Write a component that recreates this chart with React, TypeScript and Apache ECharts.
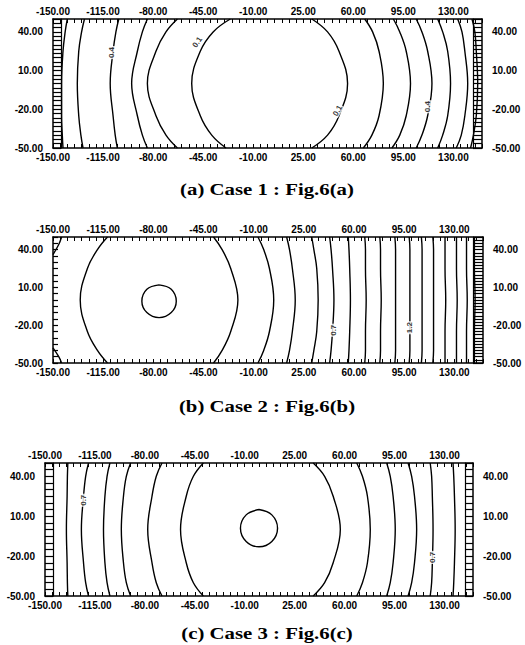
import React, { useEffect, useRef } from "react";
import * as echarts from "echarts";

// ---------- data ----------
const xTickLabels = [-150, -115, -80, -45, -10, 25, 60, 95, 130];
const yTickLabels = [-50, -20, 10, 40];
const xAxisMax = 150;
const yAxisMax = 50;

// y positions at which each contour's x value was read
const sampleY = [50, 40, 25, 0, -25, -40, -50];

// Case 1 : open contours (x at sampleY)
const case1Branches = [
  [-140, -141.5, -143, -144, -144, -143.5, -143],
  [-128, -130, -132, -133, -132, -130.5, -129],
  [-104, -106, -108, -110, -108, -106.5, -105],
  [-84, -87.5, -91, -95, -91, -87.5, -84],
  [-63, -71, -78, -84, -78, -71, -63],
  [-26, -38, -47, -53, -47, -39, -29],
  [31, 42, 50, 56, 50, 42, 31],
  [68, 73.5, 78, 81, 78, 73, 67],
  [88, 92.5, 97, 100, 97, 92.5, 87],
  [104, 108, 112, 115, 112, 108, 104],
  [119, 122.5, 126, 128, 126, 122.5, 119],
  [133, 136, 138, 140, 138, 135.5, 132],
  [143, 145, 146, 147, 146, 144, 142],
];
const case1Labels = [
  { name: "0.4", x: -109, y: 24, rot: 90 },
  { name: "0.1", x: -49, y: 32, rot: 55 },
  { name: "0.1", x: 49, y: -21, rot: 60 },
  { name: "0.4", x: 112, y: -18, rot: 90 },
];

// Case 2
const case2Branches = [
  [-112, -119, -126, -131, -126, -119, -112],
  [-38, -32, -26, -21, -26, -32, -38],
  [-7, -3, 1, 4, 1, -3, -7],
  [13, 15, 17, 19, 17, 15, 13],
  [30.5, 32, 34, 35, 34, 32, 30.5],
  [43, 44, 45, 46, 45, 44, 43],
  [56, 56.5, 57, 57.5, 57, 56.5, 56],
  [67.5, 68, 68, 68.5, 68, 68, 67.5],
  [78, 78.5, 78.5, 79, 78.5, 78.5, 78],
  [88.5, 89, 89, 89, 89, 89, 88.5],
  [98.5, 99, 99, 99, 99, 99, 98.5],
  [107, 107.5, 107.5, 107.5, 107.5, 107.5, 107],
  [115, 115.5, 115.5, 115.5, 115.5, 115.5, 115],
  [123.5, 123.5, 123.5, 124, 123.5, 123.5, 123.5],
  [131.5, 131.5, 131.5, 132, 131.5, 131.5, 131.5],
  [138.5, 138.5, 138.5, 139, 138.5, 138.5, 138.5],
  [144, 144, 144, 144.5, 144, 144, 144],
];
const case2Circle = [
  [-76, 12], [-67.5, 8.5], [-64, -1], [-67.5, -10], [-76, -14],
  [-84.5, -10], [-88, -1], [-84.5, 8.5], [-76, 12],
];
const case2Corners = [
  [[-150, 36], [-146, 44], [-144, 50]],
  [[-150, -38], [-146, -45], [-144, -50]],
];
const case2Labels = [
  { name: "0.7", x: 45.5, y: -24, rot: 90 },
  { name: "1.2", x: 99, y: -22, rot: 90 },
];

// Case 3
const case3Branches = [
  [-134, -134.3, -134.5, -135, -134.5, -134.3, -134],
  [-119.5, -121.5, -123, -124.5, -123, -121.5, -119.5],
  [-104.5, -106.5, -108, -109, -108, -106.5, -104.5],
  [-90, -93, -95, -96.5, -95, -93, -90],
  [-68, -72, -75, -78, -75, -72, -68],
  [-39, -46, -51, -55, -51, -46, -39],
  [38, 46, 52, 57, 52, 46, 38],
  [68.5, 72.5, 76, 78, 76, 72.5, 68.5],
  [89.5, 92, 94, 95.5, 94, 92, 89.5],
  [104.5, 107, 109, 110.5, 109, 107, 104.5],
  [120, 121, 121.5, 122, 121.5, 121, 120],
  [136, 136.5, 137, 137.5, 137, 136.5, 136],
];
const case3Circle = [
  [0, 15], [9, 11], [13, 1], [9, -9], [0, -13],
  [-9, -9], [-13, 1], [-9, 11], [0, 15],
];
const case3Labels = [
  { name: "0.7", x: -123, y: 22, rot: 90 },
  { name: "0.7", x: 121.5, y: -21, rot: 90 },
];

const captions = ["(a) Case 1 : Fig.6(a)", "(b) Case 2 : Fig.6(b)", "(c) Case 3 : Fig.6(c)"];

// ---------- layout ----------
const panels = [
  { left: 53, top: 19, width: 429, height: 129, capY: 189,
    ladL: { offset: -8, interval: 10 / 3, line: true, len: 8 },
    ladR: { offset: -9, interval: 10 / 3, line: true, len: 9 },
    branches: case1Branches, closed: [] as number[][][], labels: case1Labels },
  { left: 53, top: 237, width: 430, height: 126, capY: 406,
    ladL: { offset: 0, interval: 5, line: false, len: 5 },
    ladR: { offset: -10, interval: 2.5, line: true, len: 10 },
    branches: case2Branches, closed: [case2Circle, ...case2Corners], labels: case2Labels },
  { left: 45, top: 463, width: 428, height: 133, capY: 633,
    ladL: { offset: -8, interval: 5, line: true, len: 8 },
    ladR: { offset: -8, interval: 5, line: true, len: 8 },
    branches: case3Branches, closed: [case3Circle], labels: case3Labels },
];

const fmt = (v: number) => v.toFixed(2);
const labelFont = { fontFamily: "Liberation Sans", fontWeight: "bold" as const, fontSize: 10, lineHeight: 9, color: "#000" };
const axisLineStyle = { color: "#000", width: 1.5 };

function buildOption() {
  const grid: any[] = [];
  const xAxis: any[] = [];
  const yAxis: any[] = [];
  const series: any[] = [];
  const graphic: any[] = [];
  const xMin = xTickLabels[0];
  const xInt = xTickLabels[1] - xTickLabels[0];
  const yMin = yTickLabels[0];
  const yInt = yTickLabels[1] - yTickLabels[0];

  panels.forEach((p, g) => {
    grid.push({ left: p.left, top: p.top, width: p.width, height: p.height, show: false });
    (["bottom", "top"] as const).forEach((pos) => {
      xAxis.push({
        type: "value", gridIndex: g, position: pos, min: xMin, max: xAxisMax, interval: xInt,
        axisLine: { show: true, onZero: false, lineStyle: axisLineStyle },
        axisTick: { show: false }, splitLine: { show: false },
        axisLabel: { ...labelFont, formatter: fmt, margin: pos === "top" ? 3 : 5, showMaxLabel: false, showMinLabel: true },
      });
    });
    (["bottom", "top"] as const).forEach((pos) => {
      xAxis.push({
        type: "value", gridIndex: g, position: pos, min: xMin, max: xAxisMax, interval: 5,
        axisLine: { show: false, onZero: false },
        axisTick: { show: true, inside: true, length: 4, lineStyle: { color: "#000", width: 1 } },
        axisLabel: { show: false }, splitLine: { show: false },
      });
    });
    (["left", "right"] as const).forEach((pos) => {
      yAxis.push({
        type: "value", gridIndex: g, position: pos, min: yMin, max: yAxisMax, interval: yInt,
        axisLine: { show: true, onZero: false, lineStyle: axisLineStyle },
        axisTick: { show: false }, splitLine: { show: false },
        axisLabel: { ...labelFont, formatter: fmt, margin: 10, showMaxLabel: false, showMinLabel: true },
      });
    });
    ([["left", p.ladL], ["right", p.ladR]] as const).forEach(([pos, lad]: any) => {
      yAxis.push({
        type: "value", gridIndex: g, position: pos, offset: lad.offset,
        min: yMin, max: yAxisMax, interval: lad.interval,
        axisLine: { show: lad.line, onZero: false, lineStyle: { color: "#000", width: 1.2 } },
        axisTick: { show: true, inside: !lad.line, length: lad.len, lineStyle: { color: "#000", width: 1.2 } },
        axisLabel: { show: false }, splitLine: { show: false },
      });
    });

    const xi = g * 4;
    const yi = g * 4;
    const lineBase = {
      type: "line", xAxisIndex: xi, yAxisIndex: yi, smooth: 0.4, symbol: "none", showSymbol: false,
      silent: true, lineStyle: { color: "#000", width: 1.4 }, z: 2,
    };
    p.branches.forEach((xs) => {
      series.push({ ...lineBase, data: xs.map((x, i) => [x, sampleY[i]]) });
    });
    p.closed.forEach((pts) => {
      series.push({ ...lineBase, data: pts.map((pt) => [pt[0], pt[1]]) });
    });
    series.push({
      type: "scatter", xAxisIndex: xi, yAxisIndex: yi, symbol: "rect", symbolSize: 0.1, silent: true, z: 5,
      itemStyle: { color: "transparent" },
      data: p.labels.map((l) => ({ name: l.name, value: [l.x, l.y], label: { rotate: l.rot } })),
      label: {
        show: true, position: "inside", formatter: (q: any) => q.name,
        fontFamily: "Liberation Sans", fontWeight: "bold", fontSize: 8, color: "#000",
        backgroundColor: "#fff", padding: [0, 1],
      },
    });

    graphic.push({
      type: "text", x: 267, y: p.capY, scaleX: 1.3, silent: true,
      style: {
        text: captions[g], font: 'bold 16px "Liberation Serif"', fill: "#000",
        textAlign: "center", textVerticalAlign: "middle", align: "center", verticalAlign: "middle",
      },
    });
  });

  return { animation: false, backgroundColor: "#fff", grid, xAxis, yAxis, series, graphic };
}

export default function App() {
  const ref = useRef<HTMLDivElement>(null);
  useEffect(() => {
    document.body.style.margin = "0";
    if (!ref.current) return;
    const chart = echarts.init(ref.current, undefined, { renderer: "svg" });
    chart.setOption(buildOption() as any);
    return () => chart.dispose();
  }, []);
  return <div ref={ref} style={{ width: 525, height: 645, background: "#fff" }} />;
}
